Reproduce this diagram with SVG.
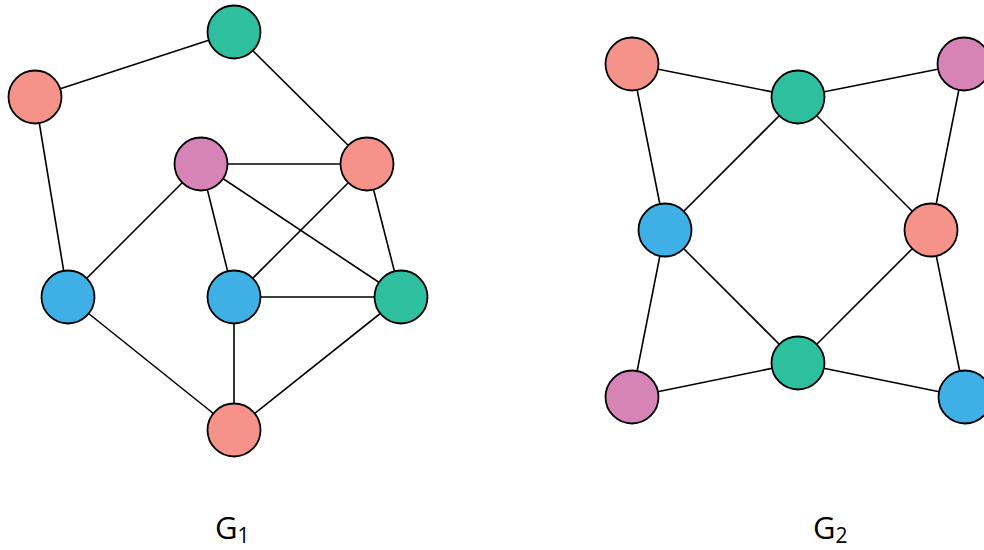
<svg xmlns="http://www.w3.org/2000/svg" width="984" height="550" viewBox="0 0 984 550">
  <style>
    .edge { stroke: #000; stroke-width: 1.6; fill: none; }
    .node { stroke: #000; stroke-width: 1.8; }
    .salmon { fill: #F5938A; }
    .green { fill: #2EBF9F; }
    .pink { fill: #D684B8; }
    .blue { fill: #3FB0E5; }
    .label { font-family: "Open Sans", "Noto Sans", sans-serif; font-size: 31px; fill: #000; }
    .sub { font-size: 21px; }
  </style>
  <rect width="984" height="550" fill="#fff"/>

  <!-- connectors -->
  <g id="edges">
    <!-- G1 -->
    <line class="edge" x1="234" y1="32" x2="35" y2="97"/>
    <line class="edge" x1="234" y1="32" x2="367" y2="164"/>
    <line class="edge" x1="35" y1="97" x2="68" y2="297"/>
    <line class="edge" x1="201" y1="164" x2="367" y2="164"/>
    <line class="edge" x1="201" y1="164" x2="68" y2="297"/>
    <line class="edge" x1="201" y1="164" x2="234" y2="297"/>
    <line class="edge" x1="201" y1="164" x2="401" y2="297"/>
    <line class="edge" x1="367" y1="164" x2="234" y2="297"/>
    <line class="edge" x1="367" y1="164" x2="401" y2="297"/>
    <line class="edge" x1="234" y1="297" x2="401" y2="297"/>
    <line class="edge" x1="234" y1="297" x2="234" y2="430"/>
    <line class="edge" x1="68" y1="297" x2="234" y2="430"/>
    <line class="edge" x1="401" y1="297" x2="234" y2="430"/>
    <!-- G2 -->
    <line class="edge" x1="632" y1="64" x2="798" y2="97"/>
    <line class="edge" x1="798" y1="97" x2="964" y2="64"/>
    <line class="edge" x1="632" y1="64" x2="665" y2="230"/>
    <line class="edge" x1="964" y1="64" x2="931" y2="230"/>
    <line class="edge" x1="798" y1="97" x2="665" y2="230"/>
    <line class="edge" x1="798" y1="97" x2="931" y2="230"/>
    <line class="edge" x1="665" y1="230" x2="798" y2="363"/>
    <line class="edge" x1="931" y1="230" x2="798" y2="363"/>
    <line class="edge" x1="665" y1="230" x2="632" y2="397"/>
    <line class="edge" x1="931" y1="230" x2="965" y2="397"/>
    <line class="edge" x1="632" y1="397" x2="798" y2="363"/>
    <line class="edge" x1="798" y1="363" x2="965" y2="397"/>
  </g>

  <!-- G1 nodes -->
  <g id="g1-top"><circle class="node green" cx="234" cy="32" r="26.5"/></g>
  <g id="g1-left"><circle class="node salmon" cx="35" cy="97" r="26.5"/></g>
  <g id="g1-inner-left"><circle class="node pink" cx="201" cy="164" r="26.5"/></g>
  <g id="g1-inner-right"><circle class="node salmon" cx="367" cy="164" r="26.5"/></g>
  <g id="g1-lower-left"><circle class="node blue" cx="68" cy="297" r="26.5"/></g>
  <g id="g1-center"><circle class="node blue" cx="234" cy="297" r="26.5"/></g>
  <g id="g1-lower-right"><circle class="node green" cx="401" cy="297" r="26.5"/></g>
  <g id="g1-bottom"><circle class="node salmon" cx="234" cy="430" r="26.5"/></g>

  <!-- G2 nodes -->
  <g id="g2-top-left"><circle class="node salmon" cx="632" cy="64" r="26.5"/></g>
  <g id="g2-top"><circle class="node green" cx="798" cy="97" r="26.5"/></g>
  <g id="g2-top-right"><circle class="node pink" cx="964" cy="64" r="26.5"/></g>
  <g id="g2-left"><circle class="node blue" cx="665" cy="230" r="26.5"/></g>
  <g id="g2-right"><circle class="node salmon" cx="931" cy="230" r="26.5"/></g>
  <g id="g2-bottom-left"><circle class="node pink" cx="632" cy="397" r="26.5"/></g>
  <g id="g2-bottom"><circle class="node green" cx="798" cy="363" r="26.5"/></g>
  <g id="g2-bottom-right"><circle class="node blue" cx="965" cy="397" r="26.5"/></g>

  <!-- graph captions -->
  <text class="label" x="215" y="539">G<tspan class="sub" dy="4">1</tspan></text>
  <text class="label" x="813" y="539">G<tspan class="sub" dy="4">2</tspan></text>
</svg>
